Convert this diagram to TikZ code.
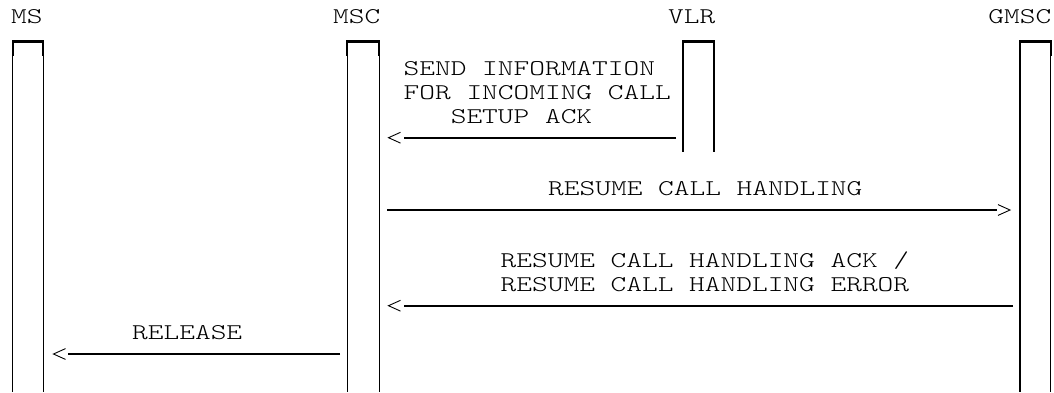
\documentclass[tikz,border=0pt]{standalone}
\usepackage{fontspec}
\newfontfamily\msgfont{lmmonolt10-regular}[Extension=.otf,FakeStretch=1.33]
\begin{document}
\begin{tikzpicture}[x=1pt,y=-1pt,
  lbl/.style={font=\msgfont\fontsize{22.5}{24}\selectfont, inner sep=0pt, text=black},
  life/.style={line width=1.3pt},
  lifetop/.style={line width=2.1pt, line join=miter},
  msg/.style={line width=2.3pt},
  chev/.style={line width=0.9pt, line join=miter}]
\useasboundingbox (0,0) rectangle (1054,392);

% lifeline boxes
\foreach \n/\l/\r/\b in {ms/12.7/43.3/392, msc/347.3/379.3/392, vlr/683/714/152, gmsc/1020/1050.7/392}{
  \coordinate (\n-tl) at (\l,41.5);
  \coordinate (\n-tr) at (\r,41.5);
  \coordinate (\n-bl) at (\l,\b);
  \coordinate (\n-br) at (\r,\b);
  \draw[life] (\n-tl) -- (\n-bl);
  \draw[life] (\n-tr) -- (\n-br);
  \draw[lifetop] ([yshift=-14pt]\n-tl) -- (\n-tl) -- (\n-tr) -- ([yshift=-14pt]\n-tr);
}

% entity labels
\node[lbl, anchor=base west] (msLbl) at (11,23.5) {MS};
\node[lbl, anchor=base east] (mscLbl) at (380.5,23.5) {MSC};
\node[lbl, anchor=base east] (vlrLbl) at (715.5,23.5) {VLR};
\node[lbl, anchor=base east] (gmscLbl) at (1051.5,23.5) {GMSC};

% message 1: VLR -> MSC
\node[lbl, anchor=base west] (m1l1) at (403.5,75) {SEND INFORMATION};
\node[lbl, anchor=base west] (m1l2) at (403.5,99) {FOR INCOMING CALL};
\node[lbl, anchor=base west] (m1l3) at (450.6,123) {SETUP ACK};
\coordinate (m1from) at (676,137.7);
\coordinate (m1to) at (404,137.7);
\coordinate (m1tip) at (388.5,137.7);
\draw[msg] (m1from) -- (m1to);
\draw[chev] ([xshift=12pt,yshift=5.4pt]m1tip) -- (m1tip) -- ([xshift=12pt,yshift=-5.4pt]m1tip);

% message 2: MSC -> GMSC
\node[lbl, anchor=base west] (m2l1) at (548,195.5) {RESUME CALL HANDLING};
\coordinate (m2from) at (387,210);
\coordinate (m2to) at (997,210);
\coordinate (m2tip) at (1010,210);
\draw[msg] (m2from) -- (m2to);
\draw[chev] ([xshift=-12pt,yshift=5.4pt]m2tip) -- (m2tip) -- ([xshift=-12pt,yshift=-5.4pt]m2tip);

% message 3: GMSC -> MSC
\node[lbl, anchor=base west] (m3l1) at (500.5,267) {RESUME CALL HANDLING ACK /};
\node[lbl, anchor=base west] (m3l2) at (500.5,291) {RESUME CALL HANDLING ERROR};
\coordinate (m3from) at (1013,305.7);
\coordinate (m3to) at (404,305.7);
\coordinate (m3tip) at (388.5,305.7);
\draw[msg] (m3from) -- (m3to);
\draw[chev] ([xshift=12pt,yshift=5.4pt]m3tip) -- (m3tip) -- ([xshift=12pt,yshift=-5.4pt]m3tip);

% message 4: MSC -> MS
\node[lbl, anchor=base west] (m4l1) at (132,339.5) {RELEASE};
\coordinate (m4from) at (340,354);
\coordinate (m4to) at (68,354);
\coordinate (m4tip) at (53.5,354);
\draw[msg] (m4from) -- (m4to);
\draw[chev] ([xshift=12pt,yshift=5.4pt]m4tip) -- (m4tip) -- ([xshift=12pt,yshift=-5.4pt]m4tip);
\end{tikzpicture}
\end{document}
